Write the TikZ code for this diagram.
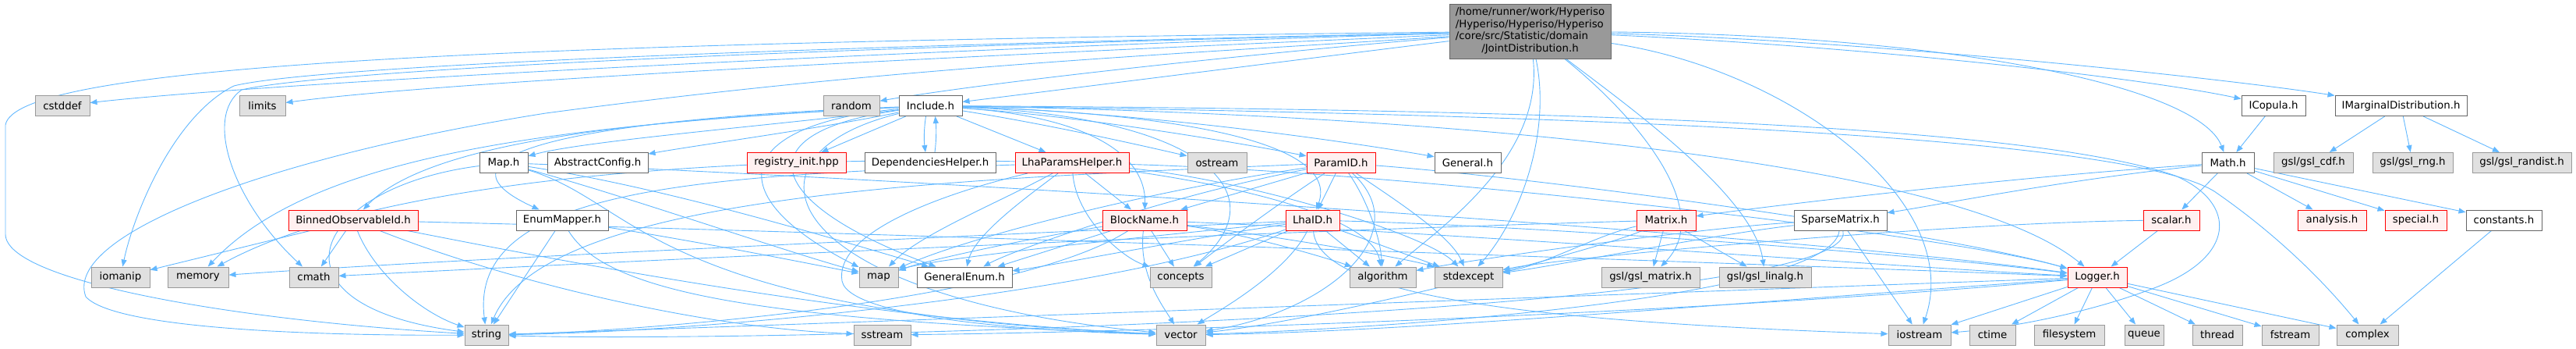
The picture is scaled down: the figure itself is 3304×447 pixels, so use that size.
\documentclass[tikz,border=0pt]{standalone}
\usepackage{fontspec}
\setmainfont{DejaVu Sans}
\usetikzlibrary{arrows.meta}
\definecolor{sysfill}{HTML}{E0E0E0}
\definecolor{sysdraw}{HTML}{999999}
\definecolor{nrmdraw}{HTML}{666666}
\definecolor{redfill}{HTML}{FFF0F0}
\definecolor{mainfill}{HTML}{999999}
\definecolor{edgecol}{HTML}{63B8FF}
\pgfdeclarelayer{bg}
\pgfsetlayers{bg,main}
\newcommand{\fnt}{\fontsize{13.33}{15.5}\selectfont}
\tikzset{
 nd/.style={draw, line width=1pt, minimum height=26pt, inner sep=0pt, font=\fnt, anchor=center},
 sys/.style={nd, fill=sysfill, draw=sysdraw},
 nrm/.style={nd, fill=white, draw=nrmdraw},
 trunc/.style={nd, fill=redfill, draw=red},
 mainn/.style={nd, fill=mainfill, draw=nrmdraw, minimum height=70pt},
 lnk/.style={draw=edgecol, line width=0.9pt, -{Triangle[length=9pt,width=7pt]}}
}
\begin{document}
\begin{tikzpicture}[x=1pt,y=-1pt]
\useasboundingbox (0,0) rectangle (3304,447);
% row 0
\node[mainn, minimum width=207pt] (m) at (1962.5,40) {\begin{tabular}{@{}l@{}}/home/runner/work/Hyperiso\\/Hyperiso/Hyperiso/Hyperiso\\/core/src/Statistic/domain\\\multicolumn{1}{@{}c@{}}{/JointDistribution.h}\end{tabular}};
% row 1
\node[sys, minimum width=70pt] (cstddef) at (80,135.5) {cstddef};
\node[sys, minimum width=59pt] (limits) at (336.5,135.5) {limits};
\node[sys, minimum width=72pt] (random) at (1092,135.5) {random};
\node[nrm, minimum width=81pt] (inc) at (1193.5,135.5) {Include.h};
\node[nrm, minimum width=82pt] (icop) at (2916,135.5) {ICopula.h};
\node[nrm, minimum width=169pt] (imarg) at (3079.5,135.5) {IMarginalDistribution.h};
% row 2
\node[nrm, minimum width=62pt] (maph) at (646,208.5) {Map.h};
\node[nrm, minimum width=129pt] (absc) at (766.5,208.5) {AbstractConfig.h};
\node[trunc, minimum width=127pt] (reg) at (1021.5,208.5) {registry\_init.hpp};
\node[nrm, minimum width=168pt] (dep) at (1193,208.5) {DependenciesHelper.h};
\node[trunc, minimum width=146pt] (lhap) at (1375,208.5) {LhaParamsHelper.h};
\node[sys, minimum width=76pt] (ostr) at (1561,208.5) {ostream};
\node[trunc, minimum width=88pt] (pid) at (1720,208.5) {ParamID.h};
\node[nrm, minimum width=85pt] (gen) at (1882.5,208.5) {General.h};
\node[nrm, minimum width=67pt] (math) at (2857.5,208.5) {Math.h};
\node[sys, minimum width=102pt] (cdf) at (2967,208.5) {gsl/gsl\_cdf.h};
\node[sys, minimum width=103pt] (rng) at (3094.5,208.5) {gsl/gsl\_rng.h};
\node[sys, minimum width=127pt] (rand) at (3234.5,208.5) {gsl/gsl\_randist.h};
% row 3
\node[trunc, minimum width=166pt] (bin) at (453,282) {BinnedObservableId.h};
\node[nrm, minimum width=118pt] (enm) at (721,282) {EnumMapper.h};
\node[trunc, minimum width=108pt] (blk) at (1468,282) {BlockName.h};
\node[trunc, minimum width=69pt] (lid) at (1683.5,282) {LhaID.h};
\node[trunc, minimum width=76pt] (mat) at (2137,282) {Matrix.h};
\node[nrm, minimum width=119pt] (spm) at (2360.5,282) {SparseMatrix.h};
\node[trunc, minimum width=72pt] (scal) at (2785,282) {scalar.h};
\node[trunc, minimum width=88pt] (anal) at (2991,282) {analysis.h};
\node[trunc, minimum width=79pt] (spec) at (3098.5,282) {special.h};
\node[nrm, minimum width=97pt] (const) at (3211.5,282) {constants.h};
% row 4
\node[sys, minimum width=75pt] (iomanip) at (154.5,355) {iomanip};
\node[sys, minimum width=78pt] (memory) at (254,355) {memory};
\node[sys, minimum width=63pt] (cmath) at (402.5,355) {cmath};
\node[sys, minimum width=50pt] (map) at (1127,355) {map};
\node[nrm, minimum width=122pt] (genum) at (1237,355) {GeneralEnum.h};
\node[sys, minimum width=79pt] (concepts) at (1514.5,355) {concepts};
\node[sys, minimum width=85pt] (algo) at (1773.5,355) {algorithm};
\node[sys, minimum width=87pt] (stdex) at (1883.5,355) {stdexcept};
\node[sys, minimum width=126pt] (gmat) at (2117,355) {gsl/gsl\_matrix.h};
\node[sys, minimum width=118pt] (glin) at (2264,355) {gsl/gsl\_linalg.h};
\node[trunc, minimum width=76pt] (log) at (2690,355) {Logger.h};
% row 5
\node[sys, minimum width=56pt] (string) at (624,429) {string};
\node[sys, minimum width=73pt] (sstream) at (1131.5,429) {sstream};
\node[sys, minimum width=63pt] (vector) at (1514.5,429) {vector};
\node[sys, minimum width=80pt] (iostream) at (2462,429) {iostream};
\node[sys, minimum width=59pt] (ctime) at (2555.5,429) {ctime};
\node[sys, minimum width=90pt] (fsys) at (2654,429) {filesystem};
\node[sys, minimum width=50pt] (queue) at (2750,429) {queue};
\node[sys, minimum width=64pt] (thread) at (2844,429) {thread};
\node[sys, minimum width=73pt] (fstream) at (2937.5,429) {fstream};
\node[sys, minimum width=79pt] (complex) at (3036.5,429) {complex};

\begin{pgfonlayer}{bg}
% main
\draw[lnk] (m) .. controls (1400,55) and (400,100) .. (cstddef);
\draw[lnk] (m) .. controls (1400,65) and (600,100) .. (limits);
\draw[lnk] (m) .. controls (1700,60) and (1300,100) .. (random);
\draw[lnk] (m) .. controls (1700,72) and (1400,110) .. (inc);
\draw[lnk] (m) .. controls (600,55) and (20,85) .. (7,160) -- (7,300) .. controls (7,360) and (300,410) .. (string);
\draw[lnk] (m) .. controls (1000,60) and (400,85) .. (300,110) .. controls (220,150) and (170,280) .. (iomanip);
\draw[lnk] (m) .. controls (1000,62) and (420,90) .. (310,115) .. controls (260,150) and (300,260) .. (cmath);
\draw[lnk] (m) .. controls (1500,70) and (1150,85) .. (700,145) .. controls (350,200) and (80,300) .. (110,380) .. controls (150,425) and (450,430) .. (string);
\draw[lnk] (m) .. controls (2400,60) and (2750,100) .. (icop);
\draw[lnk] (m) .. controls (2400,52) and (2850,100) .. (imarg);
\draw[lnk] (m) .. controls (2500,45) and (2820,110) .. (math);
\draw[lnk] (m) .. controls (2300,90) and (2520,260) .. (iostream);
\draw[lnk] (m) .. controls (2100,150) and (2200,270) .. (gmat);
\draw[lnk] (m) .. controls (2080,130) and (2250,250) .. (glin);
\draw[lnk] (m) .. controls (1990,170) and (1950,280) .. (stdex);
\draw[lnk] (m) .. controls (1980,200) and (1850,290) .. (algo);
% Include.h
\draw[lnk] (inc) .. controls (1000,160) and (750,180) .. (maph);
\draw[lnk] (inc) .. controls (1050,165) and (900,185) .. (absc);
\draw[lnk] (inc) -- (reg);
\draw[lnk] ([xshift=-6pt]inc.south) .. controls (1185,165) and (1185,180) .. ([xshift=-6pt]dep.north);
\draw[lnk] ([xshift=6pt]dep.north) .. controls (1201,180) and (1201,165) .. ([xshift=6pt]inc.south);
\draw[lnk] (inc) -- (lhap);
\draw[lnk] (inc) .. controls (1350,160) and (1480,190) .. (ostr);
\draw[lnk] (inc) .. controls (1400,150) and (1600,185) .. (pid);
\draw[lnk] (inc) .. controls (1500,145) and (1780,190) .. (gen);
\draw[lnk] (inc) .. controls (900,150) and (560,170) .. (bin);
\draw[lnk] (inc) .. controls (800,150) and (520,190) .. (enm);
\draw[lnk] (inc) .. controls (1400,150) and (1470,200) .. (blk);
\draw[lnk] (inc) .. controls (1500,145) and (1720,180) .. (lid);
\draw[lnk] (inc) .. controls (1550,150) and (1640,250) .. (concepts);
\draw[lnk] (inc) .. controls (950,170) and (980,260) .. (genum);
\draw[lnk] (inc) .. controls (940,160) and (920,250) .. (map);
\draw[lnk] (inc) .. controls (700,160) and (400,200) .. (memory);
\draw[lnk] (inc) .. controls (930,200) and (1000,380) .. (vector);
\draw[lnk] (inc) .. controls (1800,145) and (2500,200) .. (log);
\draw[lnk] (inc) .. controls (2300,150) and (2750,190) .. (2840,245) .. controls (2920,300) and (2980,360) .. (complex);
\draw[lnk] (inc) .. controls (2000,140) and (2600,160) .. (2790,225) .. controls (2870,260) and (2870,330) .. (2760,370) .. controls (2680,400) and (2580,420) .. (iostream);
% LhaParamsHelper.h
\draw[lnk] (lhap) -- (blk);
\draw[lnk] (lhap) .. controls (1380,280) and (1440,330) .. (concepts);
\draw[lnk] (lhap) .. controls (1600,240) and (1760,280) .. (algo);
\draw[lnk] (lhap) .. controls (1600,230) and (1830,300) .. (stdex);
\draw[lnk] (lhap) .. controls (1280,260) and (1180,300) .. (map);
\draw[lnk] (lhap) .. controls (1320,250) and (1250,300) .. (genum);
\draw[lnk] (lhap) .. controls (1200,250) and (1070,300) .. (1080,360) .. controls (1090,410) and (1350,425) .. (vector);
\draw[lnk] (lhap) .. controls (900,225) and (600,240) .. (string);
\draw[lnk] (lhap) .. controls (1800,220) and (2500,300) .. (log);
\draw[lnk] (lhap) .. controls (1000,200) and (500,220) .. (memory);
% ParamID.h
\draw[lnk] (pid) -- (lid);
\draw[lnk] (pid) -- (blk);
\draw[lnk] (pid) .. controls (1640,260) and (1560,320) .. (concepts);
\draw[lnk] (pid) .. controls (1750,250) and (1770,300) .. (algo);
\draw[lnk] (pid) .. controls (1780,250) and (1860,300) .. (stdex);
\draw[lnk] (pid) .. controls (1500,240) and (1250,300) .. (map);
\draw[lnk] (pid) .. controls (1500,250) and (1300,320) .. (genum);
\draw[lnk] (pid) .. controls (1200,230) and (700,250) .. (string);
\draw[lnk] (pid) .. controls (1820,300) and (1700,400) .. (vector);
\draw[lnk] (pid) .. controls (2000,230) and (2500,300) .. (log);
% LhaID.h
\draw[lnk] (lid) -- (concepts);
\draw[lnk] (lid) -- (algo);
\draw[lnk] (lid) -- (stdex);
\draw[lnk] (lid) .. controls (1650,350) and (1560,400) .. (vector);
\draw[lnk] (lid) .. controls (1300,300) and (600,330) .. (memory);
\draw[lnk] (lid) .. controls (1500,300) and (1200,330) .. (map);
\draw[lnk] (lid) .. controls (1500,310) and (1350,340) .. (genum);
\draw[lnk] (lid) .. controls (2000,290) and (2500,330) .. (log);
\draw[lnk] (lid) .. controls (1400,380) and (900,425) .. (string);
\draw[lnk] (lid) .. controls (1690,370) and (1900,410) .. (iostream);
% BlockName.h
\draw[lnk] (blk) -- (concepts);
\draw[lnk] (blk) .. controls (1600,300) and (1700,330) .. (algo);
\draw[lnk] (blk) .. controls (1620,300) and (1800,330) .. (stdex);
\draw[lnk] (blk) -- (genum);
\draw[lnk] (blk) .. controls (1350,300) and (1200,330) .. (map);
\draw[lnk] (blk) .. controls (1460,350) and (1490,390) .. (vector);
\draw[lnk] (blk) .. controls (1300,390) and (800,425) .. (string);
\draw[lnk] (blk) .. controls (1900,300) and (2400,340) .. (log);
% Matrix.h
\draw[lnk] (mat) -- (gmat);
\draw[lnk] (mat) -- (glin);
\draw[lnk] (mat) .. controls (1500,300) and (700,340) .. (cmath);
\draw[lnk] (mat) .. controls (2050,300) and (1980,340) .. (stdex);
\draw[lnk] (mat) .. controls (2050,320) and (1700,410) .. (vector);
% SparseMatrix.h
\draw[lnk] (spm) -- (iostream);
\draw[lnk] (spm) .. controls (2350,380) and (1800,420) .. (vector);
\draw[lnk] (spm) .. controls (2200,300) and (2000,340) .. (stdex);
\draw[lnk] (spm) .. controls (2200,290) and (1900,330) .. (algo);
\draw[lnk] (spm) .. controls (2390,400) and (1000,440) .. (string);
% scalar.h
\draw[lnk] (scal) -- (log);
\draw[lnk] (scal) .. controls (2500,285) and (2000,330) .. (stdex);
% Math.h
\draw[lnk] (math) .. controls (2600,225) and (2300,260) .. (mat);
\draw[lnk] (math) .. controls (2650,230) and (2500,260) .. (spm);
\draw[lnk] (math) -- (scal);
\draw[lnk] (math) -- (anal);
\draw[lnk] (math) -- (spec);
\draw[lnk] (math) -- (const);
\draw[lnk] (icop) -- (math);
\draw[lnk] (imarg) -- (cdf);
\draw[lnk] (imarg) -- (rng);
\draw[lnk] (imarg) -- (rand);
\draw[lnk] (const) -- (complex);
% Logger.h
\draw[lnk] (log) -- (iostream);
\draw[lnk] (log) -- (ctime);
\draw[lnk] (log) -- (fsys);
\draw[lnk] (log) -- (queue);
\draw[lnk] (log) -- (thread);
\draw[lnk] (log) -- (fstream);
\draw[lnk] (log) -- (complex);
\draw[lnk] (log) .. controls (2000,380) and (900,420) .. (string);
\draw[lnk] (log) .. controls (2200,390) and (1800,425) .. (vector);
\draw[lnk] (log) .. controls (2200,400) and (1500,425) .. (sstream);
% Map.h
\draw[lnk] (maph) .. controls (400,240) and (330,390) .. (string);
\draw[lnk] (maph) .. controls (800,250) and (1000,320) .. (map);
\draw[lnk] (maph) .. controls (820,260) and (830,400) .. (vector);
\draw[lnk] (maph) .. controls (850,240) and (1050,300) .. (genum);
\draw[lnk] (maph) .. controls (1200,230) and (2300,300) .. (log);
% BinnedObservableId.h
\draw[lnk] (bin) -- (iomanip);
\draw[lnk] (bin) -- (cmath);
\draw[lnk] (bin) .. controls (480,350) and (540,400) .. (string);
\draw[lnk] (bin) .. controls (650,360) and (900,420) .. (sstream);
\draw[lnk] (bin) .. controls (700,330) and (1100,410) .. (vector);
\draw[lnk] (bin) .. controls (1200,300) and (2300,340) .. (log);
% EnumMapper.h
\draw[lnk] (enm) -- (string);
\draw[lnk] (enm) .. controls (780,380) and (1000,410) .. (vector);
\draw[lnk] (enm) .. controls (900,310) and (1050,340) .. (map);
\end{pgfonlayer}
\end{tikzpicture}
\end{document}
